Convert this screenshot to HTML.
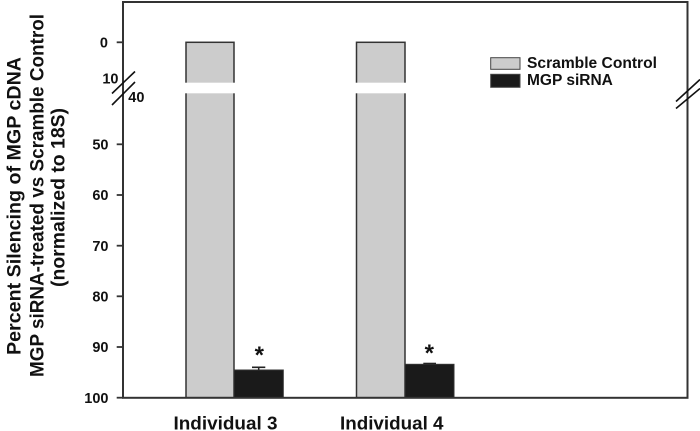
<!DOCTYPE html>
<html>
<head>
<meta charset="utf-8">
<style>
  html, body { margin:0; padding:0; background:#fff; }
  svg { display:block; }
  text { font-family: "Liberation Sans", Arial, sans-serif; font-weight: bold; fill:#111; }
</style>
</head>
<body>
<svg width="700" height="431" viewBox="0 0 700 431" xmlns="http://www.w3.org/2000/svg">
  <rect x="0" y="0" width="700" height="431" fill="#fff"/>

  <!-- Bars: Individual 3 -->
  <rect x="186" y="42.3" width="48" height="355.4" fill="#cccccc" stroke="#333" stroke-width="1.5"/>
  <rect x="234" y="370" width="49.3" height="27.7" fill="#1a1a1a" stroke="#333" stroke-width="1"/>
  <!-- Bars: Individual 4 -->
  <rect x="356.5" y="42.3" width="48.5" height="355.4" fill="#cccccc" stroke="#333" stroke-width="1.5"/>
  <rect x="405" y="364.3" width="49" height="33.4" fill="#1a1a1a" stroke="#333" stroke-width="1"/>

  <!-- break gap in bars -->
  <rect x="180" y="82.7" width="110" height="10.6" fill="#fff"/>
  <rect x="350" y="82.7" width="110" height="10.6" fill="#fff"/>

  <!-- error bars -->
  <line x1="258.7" y1="367.3" x2="258.7" y2="370" stroke="#222" stroke-width="1.5"/>
  <line x1="252" y1="367.3" x2="265.3" y2="367.3" stroke="#222" stroke-width="1.6"/>
  <line x1="423.3" y1="363.4" x2="436" y2="363.4" stroke="#222" stroke-width="1.4"/>

  <!-- asterisks -->
  <text x="259.3" y="363" font-size="24" text-anchor="middle">*</text>
  <text x="429.3" y="361" font-size="24" text-anchor="middle">*</text>

  <!-- frame -->
  <rect x="123" y="2" width="564.5" height="395.8" fill="none" stroke="#333" stroke-width="2"/>

  <!-- y ticks -->
  <g stroke="#333" stroke-width="1.8">
    <line x1="116.7" y1="42.3" x2="123" y2="42.3"/>
    <line x1="116.7" y1="144.3" x2="123" y2="144.3"/>
    <line x1="116.7" y1="195" x2="123" y2="195"/>
    <line x1="116.7" y1="245.7" x2="123" y2="245.7"/>
    <line x1="116.7" y1="296.3" x2="123" y2="296.3"/>
    <line x1="116.7" y1="347" x2="123" y2="347"/>
    <line x1="116.7" y1="397.7" x2="123" y2="397.7"/>
  </g>

  <!-- y tick labels -->
  <g font-size="14.5" text-anchor="end">
    <text x="108" y="47.5">0</text>
    <text x="118.5" y="83.5">10</text>
    <text x="108.5" y="149.5">50</text>
    <text x="108.5" y="200.2">60</text>
    <text x="108.5" y="250.9">70</text>
    <text x="108.5" y="301.5">80</text>
    <text x="108.5" y="352.2">90</text>
    <text x="108.5" y="402.9">100</text>
  </g>
  <text x="128.3" y="102" font-size="14.5">40</text>

  <!-- axis break marks left -->
  <g stroke="#111" stroke-width="1.6">
    <line x1="135" y1="71.5" x2="112" y2="93.5"/>
    <line x1="135" y1="82" x2="112" y2="105"/>
  </g>
  <!-- axis break marks right -->
  <g stroke="#111" stroke-width="1.6">
    <line x1="700" y1="79.5" x2="676" y2="101.5"/>
    <line x1="700" y1="88.5" x2="676" y2="108.5"/>
  </g>

  <!-- legend -->
  <rect x="490.7" y="57.7" width="29.3" height="11.6" fill="#cccccc" stroke="#444" stroke-width="1"/>
  <rect x="490.7" y="74.3" width="29.3" height="13" fill="#1a1a1a" stroke="#444" stroke-width="1"/>
  <text x="527" y="67.8" font-size="15.5" textLength="130" lengthAdjust="spacingAndGlyphs">Scramble Control</text>
  <text x="527" y="85" font-size="15.5">MGP siRNA</text>

  <!-- x labels -->
  <text x="173.5" y="429.3" font-size="18" textLength="104" lengthAdjust="spacingAndGlyphs">Individual 3</text>
  <text x="340" y="429.3" font-size="18" textLength="103.5" lengthAdjust="spacingAndGlyphs">Individual 4</text>

  <!-- y-axis title -->
  <g font-size="19" text-anchor="middle">
    <text transform="translate(20.7,206) rotate(-90)" x="0" y="0" textLength="298" lengthAdjust="spacingAndGlyphs">Percent Silencing of MGP cDNA</text>
    <text transform="translate(43.3,195.5) rotate(-90)" x="0" y="0" textLength="363" lengthAdjust="spacingAndGlyphs">MGP siRNA-treated vs Scramble Control</text>
    <text transform="translate(64.5,197.5) rotate(-90)" x="0" y="0" textLength="179" lengthAdjust="spacingAndGlyphs">(normalized to 18S)</text>
  </g>
</svg>
</body>
</html>
